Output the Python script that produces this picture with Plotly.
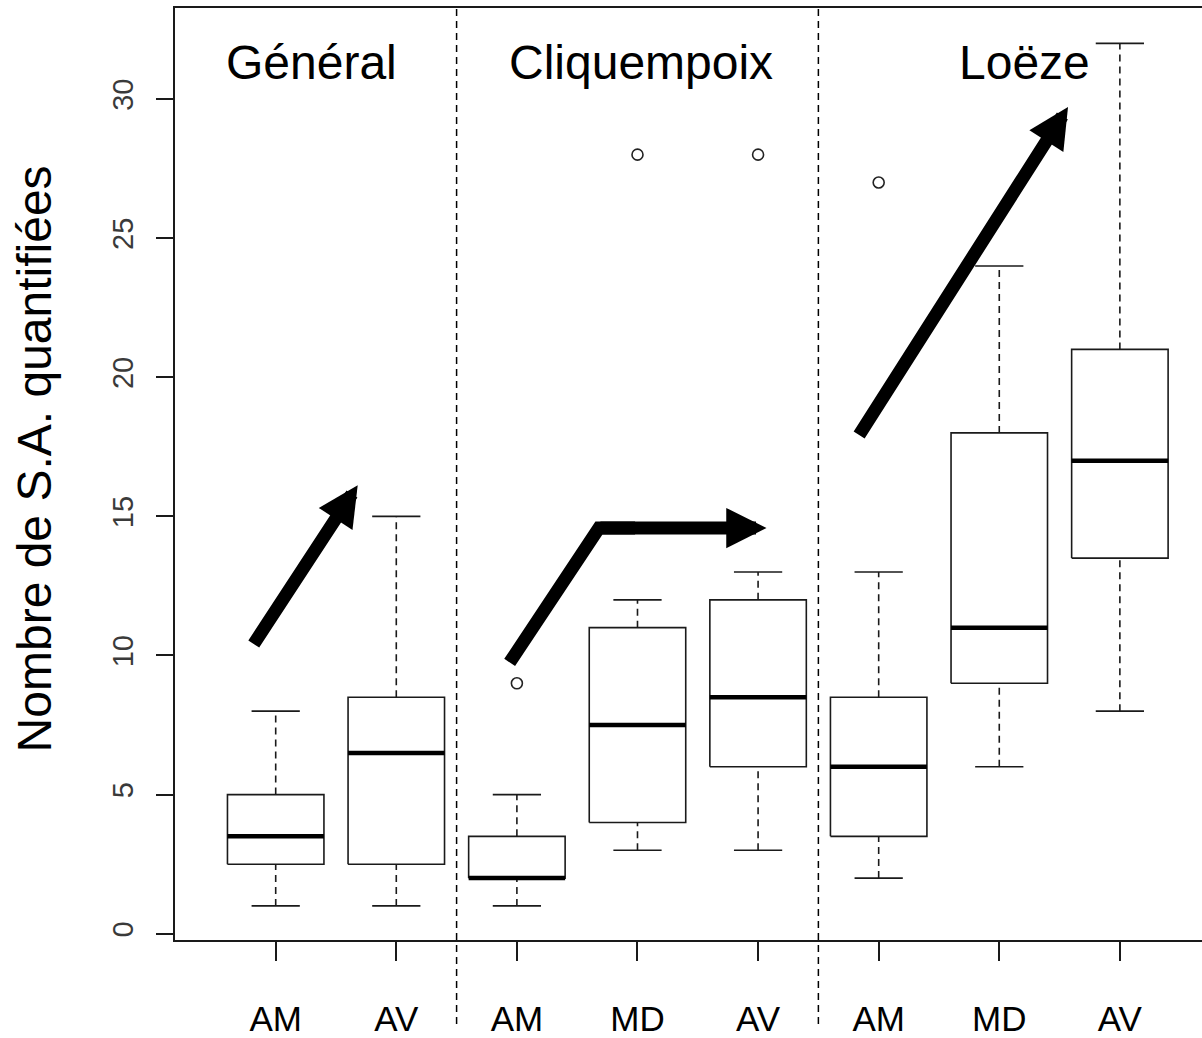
import plotly.graph_objects as go

# ---------------- data ----------------
groups = ["Général", "Cliquempoix", "Loëze"]
categories = ["AM", "AV", "AM", "MD", "AV", "AM", "MD", "AV"]
lower_whisker = [1, 1, 1, 3, 3, 2, 6, 8]
q1 = [2.5, 2.5, 2, 4, 6, 3.5, 9, 13.5]
median = [3.5, 6.5, 2, 7.5, 8.5, 6, 11, 17]
q3 = [5, 8.5, 3.5, 11, 12, 8.5, 18, 21]
upper_whisker = [8, 15, 5, 12, 13, 13, 24, 32]
outlier_box = [3, 4, 5, 6]
outlier_val = [9, 28, 28, 27]
y_ticks = [0, 5, 10, 15, 20, 25, 30]

# arrows (data coordinates)
arrow1_x = [0.81, 1.68]
arrow1_y = [10.36, 16.12]
arrow2_x = [2.94, 3.68, 5.07]
arrow2_y = [9.75, 14.58, 14.58]
arrow3_x = [5.83, 7.57]
arrow3_y = [17.87, 29.71]

group_label_x = [1.30, 4.03, 7.21]
group_label_y = 31.3
dividers = [2.5, 5.5]

# ---------------- figure ----------------
pos = list(range(1, len(categories) + 1))
half = 0.4
cap = 0.2
LINE = "#1a1a1a"

bx, by = [], []
for p, a, b in zip(pos, q1, q3):
    bx += [p - half, p + half, p + half, p - half, p - half, None]
    by += [a, a, b, b, a, None]

mx, my = [], []
for p, m in zip(pos, median):
    mx += [p - half, p + half, None]
    my += [m, m, None]

wx, wy = [], []
for p, lo, a, b, hi in zip(pos, lower_whisker, q1, q3, upper_whisker):
    wx += [p, p, None, p, p, None]
    wy += [lo, a, None, b, hi, None]

cx, cy = [], []
for p, lo, hi in zip(pos, lower_whisker, upper_whisker):
    cx += [p - cap, p + cap, None, p - cap, p + cap, None]
    cy += [lo, lo, None, hi, hi, None]

fig = go.Figure()
fig.add_trace(go.Scatter(x=wx, y=wy, mode="lines",
                         line=dict(color=LINE, width=1.6, dash="7px,5px"),
                         hoverinfo="skip", showlegend=False))
fig.add_trace(go.Scatter(x=cx, y=cy, mode="lines",
                         line=dict(color=LINE, width=1.6),
                         hoverinfo="skip", showlegend=False))
fig.add_trace(go.Scatter(x=bx, y=by, mode="lines",
                         line=dict(color=LINE, width=1.6),
                         hoverinfo="skip", showlegend=False))
fig.add_trace(go.Scatter(x=mx, y=my, mode="lines",
                         line=dict(color="black", width=4.5),
                         hoverinfo="skip", showlegend=False))
fig.add_trace(go.Scatter(x=outlier_box, y=outlier_val, mode="markers",
                         marker=dict(symbol="circle-open", size=11,
                                     color="#222", line=dict(width=1.6)),
                         hoverinfo="skip", showlegend=False))

# first leg of the bent arrow
fig.add_trace(go.Scatter(x=arrow2_x[:2] + [arrow2_x[1] + 0.3],
                         y=arrow2_y[:2] + [arrow2_y[1]], mode="lines",
                         line=dict(color="black", width=13),
                         hoverinfo="skip", showlegend=False))

annotations = []
def arrow(x0, y0, x1, y1):
    annotations.append(dict(x=x1, y=y1, ax=x0, ay=y0, xref="x", yref="y",
                            axref="x", ayref="y", text="", showarrow=True,
                            arrowhead=2, arrowsize=0.62, arrowwidth=13,
                            arrowcolor="black", standoff=0))

arrow(arrow1_x[0], arrow1_y[0], arrow1_x[1], arrow1_y[1])
arrow(arrow2_x[1], arrow2_y[1], arrow2_x[2], arrow2_y[2])
arrow(arrow3_x[0], arrow3_y[0], arrow3_x[1], arrow3_y[1])

for name, gx in zip(groups, group_label_x):
    annotations.append(dict(x=gx, y=group_label_y, xref="x", yref="y",
                            text=name, showarrow=False,
                            font=dict(family="Liberation Sans, Arial", size=48,
                                      color="black"),
                            xanchor="center", yanchor="middle"))

annotations.append(dict(x=-0.137, y=0.516, xref="paper", yref="paper",
                        text="Nombre de S.A. quantifiées", showarrow=False,
                        textangle=-90,
                        font=dict(family="Liberation Sans, Arial", size=48,
                                  color="black"),
                        xanchor="center", yanchor="middle"))

shapes = []
for d in dividers:
    shapes.append(dict(type="line", xref="x", yref="paper", x0=d, x1=d,
                       y0=-0.09, y1=1.003,
                       line=dict(color="black", width=1.5, dash="7px,5px")))

fig.update_layout(
    width=1202, height=1038,
    margin=dict(l=175, r=0, t=8, b=94),
    paper_bgcolor="white", plot_bgcolor="white",
    annotations=annotations, shapes=shapes,
    showlegend=False,
    xaxis=dict(range=[0.165, 8.681], tickvals=pos, ticktext=categories,
               showgrid=False, zeroline=False,
               showline=True, linecolor=LINE, linewidth=1.6, mirror=True,
               ticks="outside", ticklen=19, tickwidth=1.6, tickcolor=LINE,
               ticklabelstandoff=28,
               tickfont=dict(family="Liberation Sans, Arial", size=35,
                             color="black")),
    yaxis=dict(range=[-0.225, 33.27], tickvals=y_ticks,
               ticktext=[str(v) for v in y_ticks],
               showgrid=False, zeroline=False,
               showline=True, linecolor=LINE, linewidth=1.6,
               ticks="outside", ticklen=17, tickwidth=1.6, tickcolor=LINE,
               tickangle=-90, ticklabelstandoff=12,
               tickfont=dict(family="Liberation Sans, Arial", size=29,
                             color="#3a3a3a")),
)

fig.write_html(
    "out.html",
    config={"displayModeBar": False},
    post_script=(
        "var h=document.documentElement.style;h.margin='0';h.padding='0';"
        "h.overflow='hidden';h.height='1038px';"
        "var b=document.body.style;b.margin='0';b.padding='0';"
        "b.overflow='hidden';b.height='1038px';"
        "var d=document.getElementById('{plot_id}');"
        "if(d&&d.parentElement){d.parentElement.style.height='1038px';"
        "d.parentElement.style.overflow='hidden';}"
    ),
)
